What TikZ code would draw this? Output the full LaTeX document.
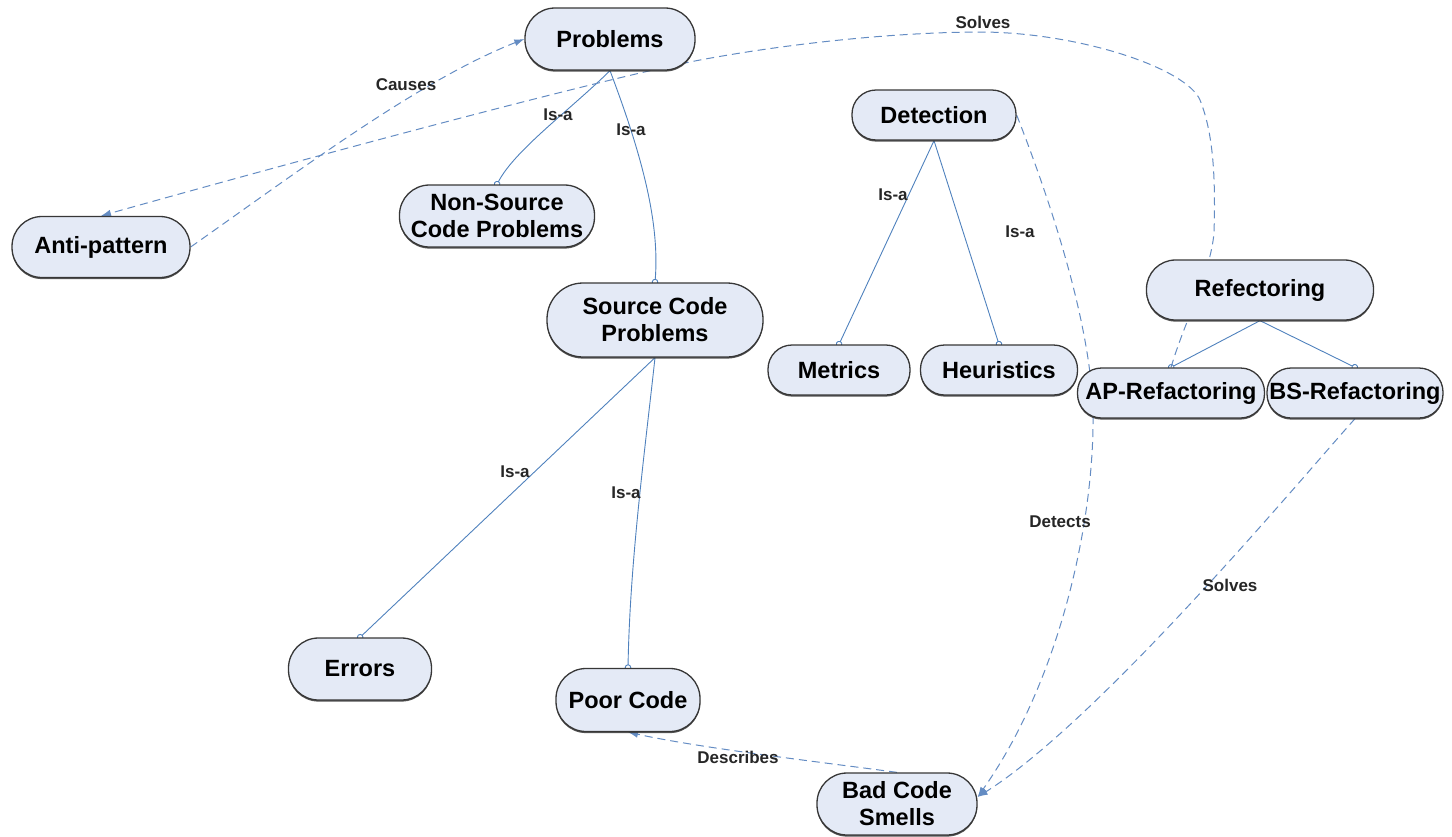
\documentclass[tikz,border=0pt]{standalone}
\usepackage{fontspec}
\setmainfont{Liberation Sans}
\usetikzlibrary{arrows.meta,shadows}
\pgfdeclarelayer{edges}
\pgfsetlayers{edges,main}
\definecolor{nodefill}{RGB}{228,234,246}
\definecolor{nodeline}{RGB}{55,55,55}
\definecolor{linkblue}{RGB}{79,129,189}
\definecolor{dashblue}{RGB}{100,140,195}

\begin{document}
\begin{tikzpicture}[x=1pt,y=-1pt,
  concept/.style n args={3}{draw=nodeline, line width=1.3pt, fill=nodefill,
    minimum width=#1pt, minimum height=#2pt, rounded corners=#3pt,
    drop shadow={shadow xshift=0pt, shadow yshift=-1.6pt, fill=nodeline, opacity=0.85},
    inner sep=0pt, align=center, font=\fontsize{23.5}{27}\selectfont\bfseries},
  isa/.style={draw=linkblue, line width=0.9pt, shorten >=-3pt, -{Circle[open,length=6.5pt]}},
  rel/.style={draw=dashblue, line width=1pt, dash pattern=on 8pt off 5pt,
    -{Latex[length=10pt,width=7pt]}},
  lbl/.style={font=\fontsize{17}{19}\selectfont\bfseries, text=black!85, inner sep=1pt}]

\useasboundingbox (0,0) rectangle (1452,836);

% concepts
\node[concept={170}{62}{30}] (prob) at (610,39) {Problems};
\node[concept={178}{61}{30}] (anti) at (101,247) {Anti-pattern};
\node[concept={195}{62}{30}] (nsp) at (497,216) {Non-Source\\Code Problems};
\node[concept={216}{74}{36}] (scp) at (655,320) {Source Code\\Problems};
\node[concept={164}{50}{24}] (det) at (934,115) {Detection};
\node[concept={142}{50}{24}] (met) at (839,370) {Metrics};
\node[concept={157}{50}{24}] (heu) at (999,370) {Heuristics};
\node[concept={227}{60}{29}] (ref) at (1260,290) {Refectoring};
\node[concept={187}{50}{24}] (ap) at (1171,393) {AP-Refactoring};
\node[concept={176}{50}{24}] (bs) at (1355,393) {BS-Refactoring};
\node[concept={143}{62}{30}] (err) at (360,669) {Errors};
\node[concept={144}{63}{30}] (pc) at (628,700) {Poor Code};
\node[concept={160}{62}{30}] (bcs) at (897,804) {Bad Code\\Smells};

% links, drawn beneath the concepts
\begin{pgfonlayer}{edges}
\draw[isa] (prob.south) .. controls (570,110) and (515,150) .. (nsp.north);
\draw[isa] (prob.south) .. controls (640,150) and (660,220) .. (scp.north);
\draw[isa] (det.south) -- (met.north);
\draw[isa] (det.south) -- (heu.north);
\draw[isa] (ref.south) -- (ap.north);
\draw[isa] (ref.south) -- (bs.north);
\draw[isa] (scp.south) -- (err.north);
\draw[isa] (scp.south) .. controls (645,450) and (630,560) .. (pc.north);

\draw[rel] (anti.east) .. controls (300,170) and (420,80) .. (prob.west);
\draw[rel] (ap.north) .. controls (1185,320) and (1210,275) .. (1214,233)
  .. controls (1216,170) and (1212,130) .. (1200,100)
  .. controls (1186,68) and (1080,33) .. (983,32)
  .. controls (890,32) and (780,45) .. (700,60)
  .. controls (600,79) and (300,160) .. (anti.north);
\draw[rel] (det.east) .. controls (1050,200) and (1090,320) .. (1093,410)
  .. controls (1095,520) and (1060,680) .. (bcs.5);
\draw[rel] (bs.south) .. controls (1300,480) and (1100,720) .. (bcs.5);
\draw[rel] (bcs.north) .. controls (820,762) and (700,748) .. (pc.south);
\end{pgfonlayer}

% link labels
\node[lbl] (lCauses) at (406,85) {Causes};
\node[lbl] (lIsaA) at (558,115) {Is-a};
\node[lbl] (lIsaB) at (631,130) {Is-a};
\node[lbl] (lSolvesA) at (983,22) {Solves};
\node[lbl] (lIsaC) at (893,195) {Is-a};
\node[lbl] (lIsaD) at (1020,232) {Is-a};
\node[lbl] (lIsaE) at (515,472) {Is-a};
\node[lbl] (lIsaF) at (626,493) {Is-a};
\node[lbl] (lDetects) at (1060,522) {Detects};
\node[lbl] (lSolvesB) at (1230,585) {Solves};
\node[lbl] (lDescribes) at (738,757) {Describes};
\end{tikzpicture}
\end{document}
